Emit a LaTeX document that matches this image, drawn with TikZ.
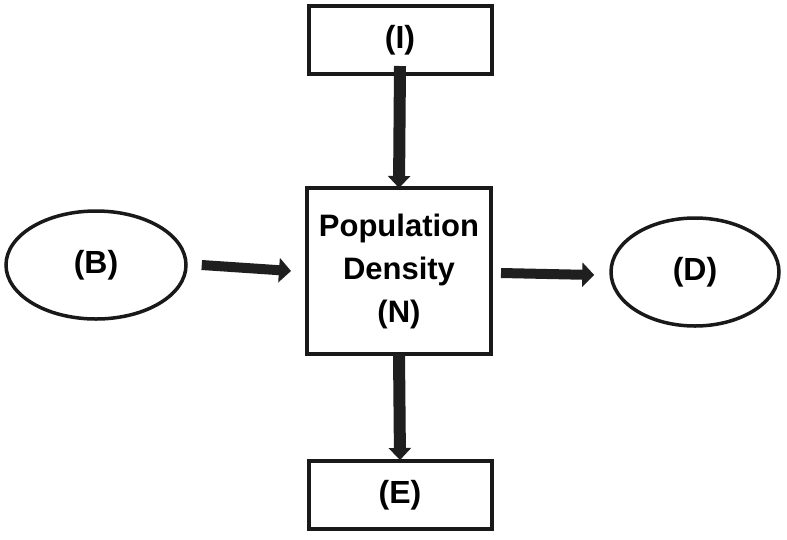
\documentclass[tikz,border=0pt]{standalone}
\usepackage{fontspec}
\setmainfont{Liberation Sans}
\usetikzlibrary{arrows.meta,shapes.geometric}
\begin{document}
\begin{tikzpicture}[x=1pt,y=-1pt,
  boxnode/.style={draw=black!90, line width=4pt, rectangle, inner sep=0pt, font=\bfseries\fontsize{32}{34}\selectfont},
  ovalnode/.style={draw=black!90, line width=3.5pt, ellipse, inner sep=0pt, font=\bfseries\fontsize{32}{34}\selectfont},
  flow/.style={draw=black!88, line width=10pt, -{Triangle[length=12pt,width=24pt]}},
  vflow/.style={draw=black!88, line width=12pt, -{Triangle[length=12pt,width=22pt]}}]
\useasboundingbox (0,0) rectangle (787,539);
\fill[white] (0,0) rectangle (787,539);
\node[boxnode, minimum width=183pt, minimum height=68pt] (I) at (400,40) {(I)};
\node[boxnode, minimum width=184pt, minimum height=166pt, align=center, font=\bfseries\fontsize{31}{43}\selectfont] (N) at (399,271) {Population\\Density\\(N)};
\node[boxnode, minimum width=183pt, minimum height=68pt] (E) at (400,495) {(E)};
\node[ovalnode, minimum width=180pt, minimum height=108pt] (B) at (96,265) {(B)};
\node[ovalnode, minimum width=168pt, minimum height=108pt] (D) at (695,272) {(D)};
\draw[vflow] ([yshift=10pt]I.south) -- ([yshift=-2pt]N.north);
\draw[vflow] ([yshift=2pt]N.south) -- ([yshift=-1pt]E.north);
\draw[flow] ([xshift=14pt]B.east) -- ([xshift=-14pt]N.west);
\draw[flow] ([xshift=8pt,yshift=-2pt]N.east) -- ([xshift=-15pt,yshift=-3pt]D.west);
\end{tikzpicture}
\end{document}
